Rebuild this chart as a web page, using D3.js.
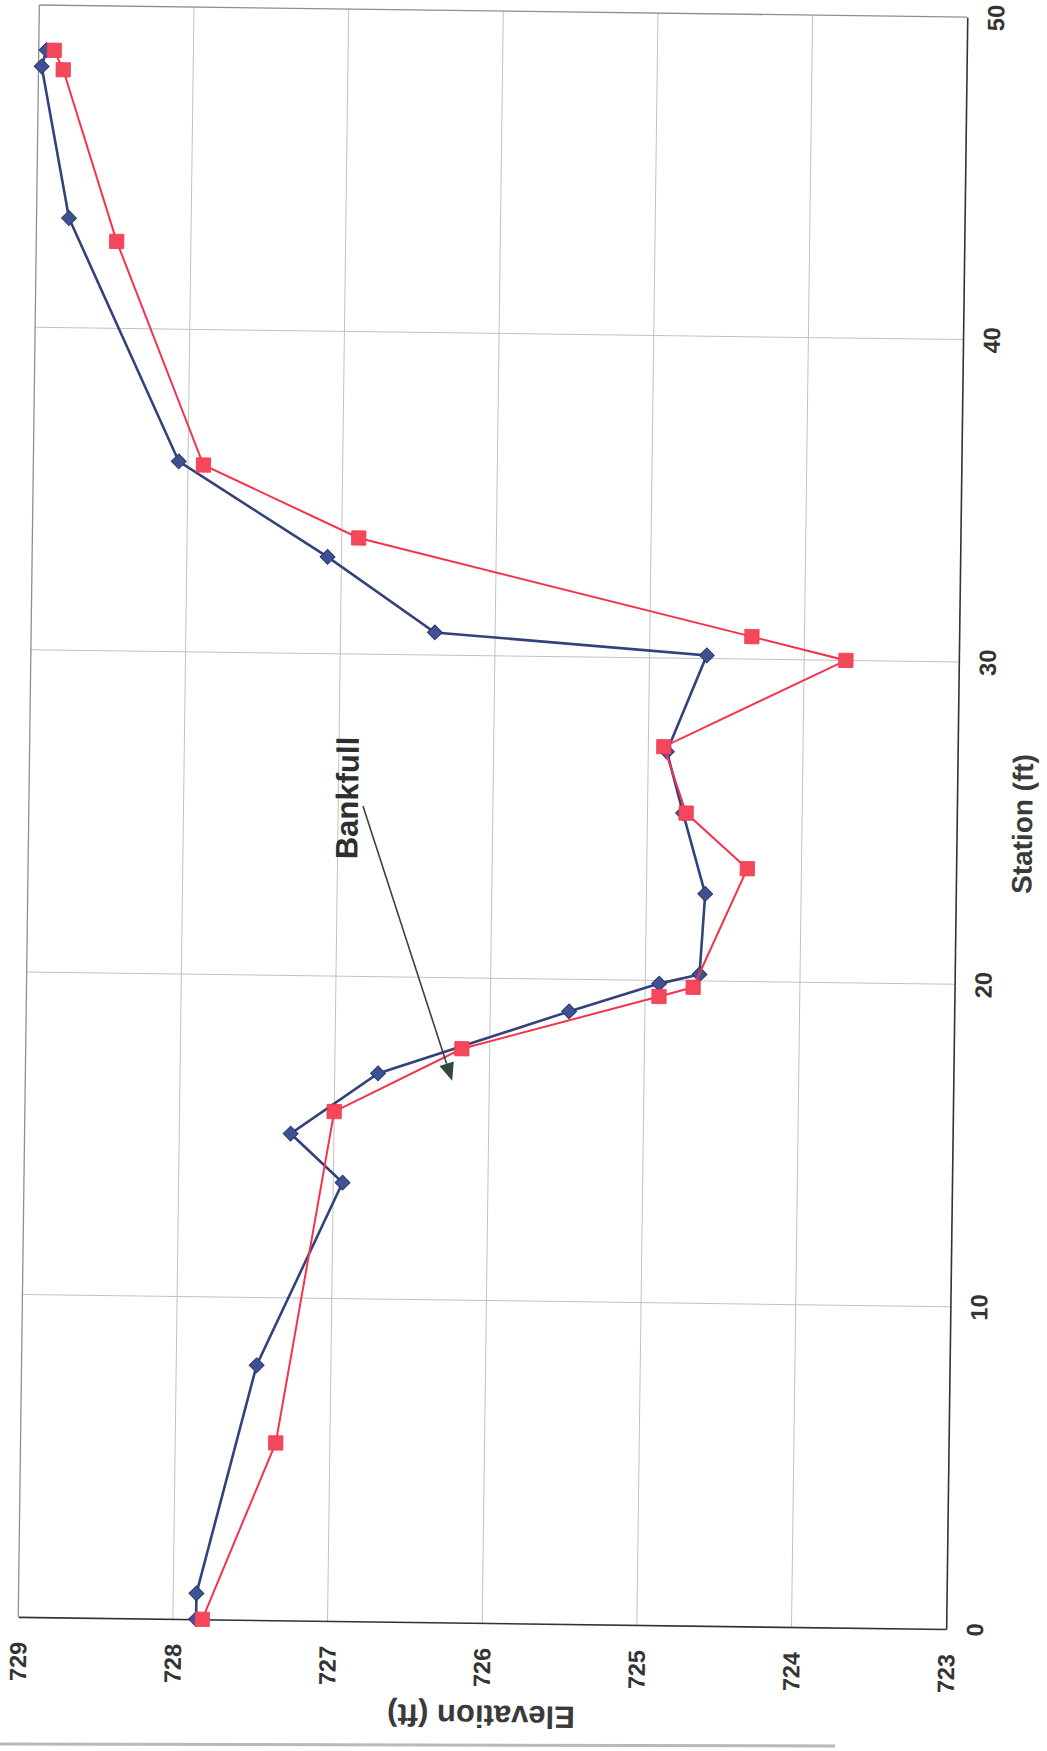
<!DOCTYPE html>
<html><head><meta charset="utf-8">
<script src="https://cdn.jsdelivr.net/npm/d3@7"></script>
<style>html,body{margin:0;padding:0;background:#fff;} svg{display:block;}</style>
</head><body>
<svg id="chart" width="1047" height="1751"></svg>
<script>
// ---- data ----
const stationBlue = [0, 0.8, 7.9, 13.6, 15.1, 17.0, 19.0, 19.9, 20.2, 22.7, 25.2, 27.1, 30.1, 30.7, 33.0, 35.9, 43.4, 48.1, 48.6];
const elevBlue    = [727.85, 727.85, 727.48, 726.94, 727.28, 726.72, 725.49, 724.91, 724.65, 724.62, 724.77, 724.88, 724.63, 726.39, 727.09, 728.06, 728.79, 728.98, 728.95];
const stationRed  = [0, 5.5, 15.8, 17.8, 19.5, 19.8, 23.5, 25.2, 27.25, 30.0, 30.7, 33.6, 35.8, 42.7, 48.0, 48.6];
const elevRed     = [727.81, 727.35, 727.0, 726.18, 724.91, 724.69, 724.35, 724.75, 724.90, 723.73, 724.34, 726.89, 727.90, 728.48, 728.84, 728.90];
const elevTicks    = [729, 728, 727, 726, 725, 724, 723];
const stationTicks = [0, 10, 20, 30, 40, 50];
const elevTitle = "Elevation (ft)";
const stationTitle = "Station (ft)";
const noteText = "Bankfull";
const noteLabel = [25.53, 726.94];   // station, elevation of label centre
const noteStart = [25.29, 726.84];   // arrow start
const noteTip   = [16.8, 726.24];    // arrow tip

// ---- layout ----
const W = 1047, H = 1751;
const L = 28.75, R = 956.75, T = 11, B = 1623;
const svg = d3.select('#chart');
svg.append('rect').attr('width', W).attr('height', H).attr('fill', '#fff');
// scan shadow at bottom
svg.append('line').attr('x1', 0).attr('x2', 835).attr('y1', 1744).attr('y2', 1746)
  .attr('stroke', '#b9b9b9').attr('stroke-width', 3);

const g = svg.append('g').attr('transform', 'rotate(0.75,492.75,817)');
const x = d3.scaleLinear().domain([729, 723]).range([L, R]);
const y = d3.scaleLinear().domain([0, 50]).range([B, T]);

// gridlines
g.append('g').selectAll('line').data(elevTicks.slice(1, -1)).join('line')
  .attr('x1', d => x(d)).attr('x2', d => x(d)).attr('y1', T).attr('y2', B)
  .attr('stroke', '#c2c2c2').attr('stroke-width', 1);
g.append('g').selectAll('line').data(stationTicks.slice(1, -1)).join('line')
  .attr('y1', d => y(d)).attr('y2', d => y(d)).attr('x1', L).attr('x2', R)
  .attr('stroke', '#c2c2c2').attr('stroke-width', 1);
// plot border (top, left)
g.append('line').attr('x1', L).attr('x2', R).attr('y1', T).attr('y2', T).attr('stroke', '#8f8f8f').attr('stroke-width', 1.3);
g.append('line').attr('x1', L).attr('x2', L).attr('y1', T).attr('y2', B).attr('stroke', '#8f8f8f').attr('stroke-width', 1.3);

// elevation axis (bottom)
const axB = g.append('g').attr('transform', `translate(0,${B})`)
  .call(d3.axisBottom(x).tickValues(elevTicks).tickSize(0).tickSizeOuter(0).tickFormat(d3.format('d')));
axB.select('.domain').attr('stroke', '#333').attr('stroke-width', 1.6);
axB.selectAll('text')
  .attr('transform', 'rotate(-90)').attr('x', -25).attr('y', 0).attr('dy', null)
  .attr('dominant-baseline', 'central').attr('text-anchor', 'end')
  .attr('font-family', 'Liberation Sans, Arial, sans-serif').attr('font-size', 23.5).attr('font-weight', 'bold')
  .attr('fill', '#333');

// station axis (right)
const axR = g.append('g').attr('transform', `translate(${R},0)`)
  .call(d3.axisRight(y).tickValues(stationTicks).tickSize(0).tickSizeOuter(0).tickFormat(d3.format('d')));
axR.select('.domain').attr('stroke', '#333').attr('stroke-width', 1.6);
axR.selectAll('text')
  .attr('transform', 'rotate(-90)').attr('x', 0).attr('y', 29).attr('dy', null)
  .attr('dominant-baseline', 'central').attr('text-anchor', 'middle')
  .attr('font-family', 'Liberation Sans, Arial, sans-serif').attr('font-size', 23.5).attr('font-weight', 'bold')
  .attr('fill', '#333');

// axis titles
g.append('text').attr('transform', `translate(${(L + R) / 2},${B + 93}) rotate(180)`)
  .attr('text-anchor', 'middle').attr('dominant-baseline', 'central')
  .attr('font-family', 'Liberation Sans, Arial, sans-serif').attr('font-size', 31).attr('font-weight', 'bold')
  .attr('fill', '#3a3a3a').text(elevTitle);
g.append('text').attr('transform', `translate(${R + 66},${(T + B) / 2}) rotate(-90)`)
  .attr('text-anchor', 'middle').attr('dominant-baseline', 'central')
  .attr('font-family', 'Liberation Sans, Arial, sans-serif').attr('font-size', 28).attr('font-weight', 'bold')
  .attr('fill', '#3a3a3a').text(stationTitle);

// series
const blue = stationBlue.map((s, i) => ({ s, e: elevBlue[i] }));
const red = stationRed.map((s, i) => ({ s, e: elevRed[i] }));
const line = d3.line().x(d => x(d.e)).y(d => y(d.s));

g.append('path').datum(blue).attr('d', line).attr('fill', 'none').attr('stroke', '#34427c').attr('stroke-width', 2.6);
g.append('g').selectAll('path').data(blue).join('path')
  .attr('d', d3.symbol(d3.symbolSquare, 110)())
  .attr('transform', d => `translate(${x(d.e)},${y(d.s)}) rotate(45)`)
  .attr('fill', '#3e5192').attr('stroke', '#2c3870').attr('stroke-width', 1);

g.append('path').datum(red).attr('d', line).attr('fill', 'none').attr('stroke', '#f4334f').attr('stroke-width', 2);
g.append('g').selectAll('path').data(red).join('path')
  .attr('d', d3.symbol(d3.symbolSquare, 205)())
  .attr('transform', d => `translate(${x(d.e)},${y(d.s)})`)
  .attr('fill', '#f5475c').attr('stroke', '#ee3a52').attr('stroke-width', 0.8);

// annotation
const sx = x(noteStart[1]), sy = y(noteStart[0]);
const tx = x(noteTip[1]), ty = y(noteTip[0]);
const ang = Math.atan2(ty - sy, tx - sx);
const hl = 18, hw = 7.5;
const bx = tx - hl * Math.cos(ang), by = ty - hl * Math.sin(ang);
g.append('line').attr('x1', sx).attr('y1', sy).attr('x2', bx).attr('y2', by)
  .attr('stroke', '#404040').attr('stroke-width', 1.6);
g.append('path')
  .attr('d', `M${tx},${ty}L${bx + hw * Math.sin(ang)},${by - hw * Math.cos(ang)}L${bx - hw * Math.sin(ang)},${by + hw * Math.cos(ang)}Z`)
  .attr('fill', '#2f4a36');
g.append('text').attr('transform', `translate(${x(noteLabel[1])},${y(noteLabel[0])}) rotate(-90)`)
  .attr('text-anchor', 'middle').attr('dominant-baseline', 'central')
  .attr('font-family', 'Liberation Sans, Arial, sans-serif').attr('font-size', 31).attr('font-weight', 'bold')
  .attr('fill', '#2e2e2e').text(noteText);
</script>
</body></html>
